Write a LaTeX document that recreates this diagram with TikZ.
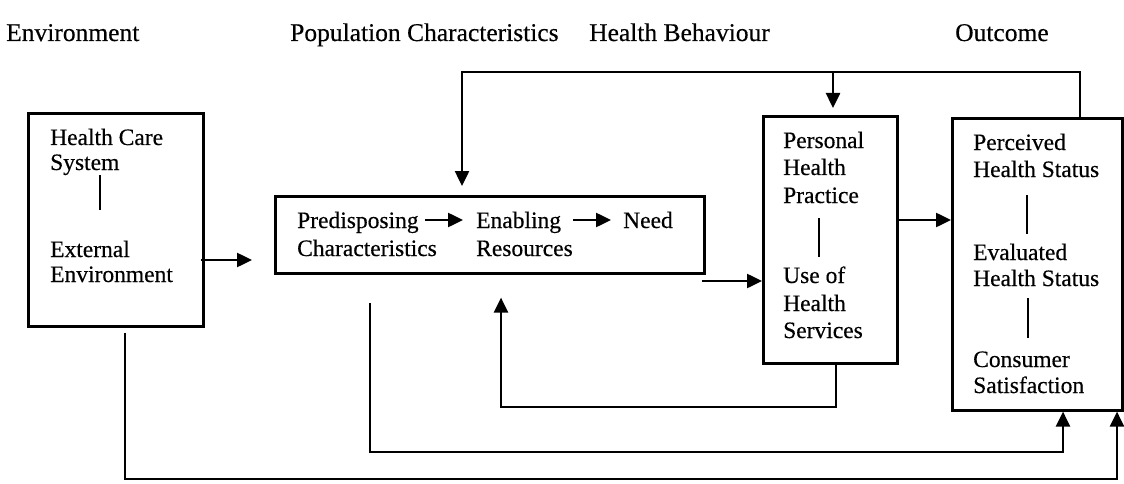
\documentclass[tikz,border=0pt]{standalone}
\usepackage{fontspec}
\setmainfont[FakeBold=0.4]{Liberation Serif}
\usetikzlibrary{arrows.meta}
\begin{document}
\begin{tikzpicture}[x=1pt,y=-1pt,
  ln/.style={line width=2.5pt},
  arr/.style={ln,-{Triangle[length=15pt,width=14pt]}},
  box/.style={draw,line width=2.6pt,rectangle,inner sep=0pt,anchor=north west},
  txt/.style={anchor=base west,inner sep=0pt,font=\fontsize{23.5}{27}\selectfont},
  hd/.style={anchor=base west,inner sep=0pt,font=\fontsize{25.5}{30}\selectfont}]
\useasboundingbox (0,0) rectangle (1124,484);
% headings
\node[hd] (h1) at (6,41) {Environment};
\node[hd] (h2) at (290,41) {Population Characteristics};
\node[hd] (h3) at (589,41) {Health Behaviour};
\node[hd] (h4) at (955,41) {Outcome};
% boxes
\node[box,minimum width=175pt,minimum height=213pt] (env) at (27,112) {};
\node[box,minimum width=429pt,minimum height=77pt] (pop) at (274,195) {};
\node[box,minimum width=134pt,minimum height=247pt] (beh) at (762,115) {};
\node[box,minimum width=170pt,minimum height=292pt] (out) at (951,117) {};
% environment texts
\node[txt] (hc1) at (50,145) {Health Care};
\node[txt] (hc2) at (50,170) {System};
\node[txt] (ex1) at (50,257) {External};
\node[txt] (ex2) at (50,282) {Environment};
\coordinate (d1) at (100,175); \coordinate (d2) at (100,210);
\draw[ln] (d1) -- (d2);
% population texts
\node[txt] (pr1) at (297,228) {Predisposing};
\node[txt] (pr2) at (297,256) {Characteristics};
\node[txt] (en1) at (476,228) {Enabling};
\node[txt] (en2) at (476,256) {Resources};
\node[txt] (nd) at (623,228) {Need};
\coordinate (ay) at (0,220);
\draw[arr,shorten <=6pt,shorten >=13pt] (pr1.east |- ay) -- (en1.west |- ay);
\draw[arr,shorten <=12pt,shorten >=12pt] (en1.east |- ay) -- (nd.west |- ay);
% behaviour texts
\node[txt] (ph1) at (783,148) {Personal};
\node[txt] (ph2) at (783,175) {Health};
\node[txt] (ph3) at (783,203) {Practice};
\node[txt] (us1) at (783,283) {Use of};
\node[txt] (us2) at (783,311) {Health};
\node[txt] (us3) at (783,338) {Services};
\coordinate (d3) at (819,218); \coordinate (d4) at (819,257);
\draw[ln] (d3) -- (d4);
% outcome texts
\node[txt] (pe1) at (973,150) {Perceived};
\node[txt] (pe2) at (973,177) {Health Status};
\node[txt] (ev1) at (973,260) {Evaluated};
\node[txt] (ev2) at (973,286) {Health Status};
\node[txt] (cs1) at (973,367) {Consumer};
\node[txt] (cs2) at (973,393) {Satisfaction};
\coordinate (d5) at (1027,195); \coordinate (d6) at (1027,234);
\coordinate (d7) at (1028,298); \coordinate (d8) at (1028,338);
\draw[ln] (d5) -- (d6);
\draw[ln] (d7) -- (d8);
% connectors
\coordinate (e1) at (252,260);
\draw[arr] ([xshift=-4pt]env.east |- e1) -- (e1);
\coordinate (t1) at (1080,72);
\coordinate (t2) at (462,72);
\coordinate (t3) at (833,72);
\draw[arr,shorten >=9pt] (out.north -| t1) -- (t1) -- (t2) -- (t2 |- pop.north);
\draw[arr,shorten >=7pt] (t3) -- (t3 |- beh.north);
\coordinate (m1) at (702,281);
\draw[arr] (m1) -- (m1 -| beh.west);
\coordinate (b1) at (896,220);
\draw[arr] (beh.east |- b1) -- (out.west |- b1);
\coordinate (r1) at (836,407);
\coordinate (r2) at (501,407);
\draw[arr,shorten >=23pt] (beh.south -| r1) -- (r1) -- (r2) -- (r2 |- pop.south);
\coordinate (s0) at (370,303);
\coordinate (s1) at (370,452);
\coordinate (s2) at (1063,452);
\draw[arr] (s0) -- (s1) -- (s2) -- (s2 |- out.south);
\coordinate (u1) at (125,479);
\coordinate (u2) at (1117,479);
\draw[arr,shorten <=5pt] (env.south -| u1) -- (u1) -- (u2) -- (u2 |- out.south);
\end{tikzpicture}
\end{document}
